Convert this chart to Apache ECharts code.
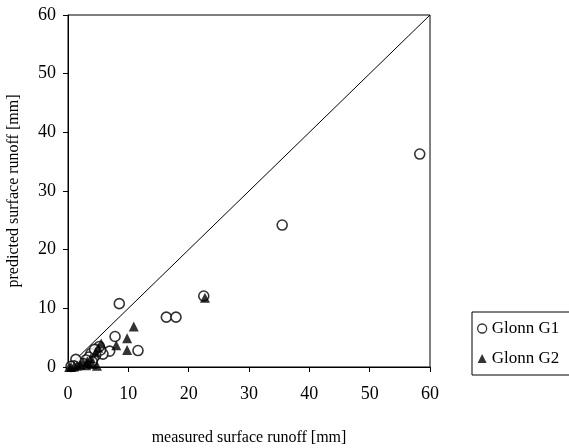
<!DOCTYPE html>
<html>
<head>
<meta charset="utf-8">
<script src="https://cdn.jsdelivr.net/npm/echarts@6/dist/echarts.min.js"></script>
<style>
  html, body { margin: 0; padding: 0; background: #fff; }
  #chart { width: 569px; height: 448px; }
</style>
</head>
<body>
<div id="chart"></div>
<script>
// measured vs predicted surface runoff [mm]
var glonnG1 = [
    [58.3, 36.3], [35.5, 24.2], [22.5, 12.1], [8.5, 10.8], [16.3, 8.5], [17.9, 8.5],
    [7.8, 5.2], [11.6, 2.8], [6.9, 2.7], [5.8, 2.2], [5.4, 2.9], [4.6, 2.0],
    [4.2, 1.5], [3.8, 2.3], [3.5, 1.7], [4.0, 0.9], [3.0, 1.2], [2.5, 0.6],
    [1.3, 1.3], [1.0, 0.2], [0.5, 0.1], [5.2, 3.5], [4.4, 3.0]
];
var glonnG2 = [
    [22.7, 11.8], [10.9, 6.9], [9.8, 4.9], [9.8, 2.9], [8.0, 3.7], [5.5, 4.0],
    [5.0, 3.3], [4.6, 2.5], [3.8, 1.5], [3.2, 1.0], [2.5, 0.8], [2.0, 0.4],
    [1.5, 0.2], [1.0, 0.1], [0.5, 0.0], [0.2, 0.0], [4.8, 0.2], [4.0, 0.5], [3.0, 0.3]
];
var oneToOne = [[0, 0], [60, 60]];
var seriesNames = ["Glonn G1", "Glonn G2"];

var font = "Liberation Serif";
var chart = echarts.init(document.getElementById("chart"));

var option = {
    animation: false,
    backgroundColor: "#fff",
    textStyle: { fontFamily: font, color: "#000" },
    grid: {
        left: 68, top: 15, right: 139, bottom: 81,
        outerBoundsMode: "none",
        containLabel: false,
        show: true, borderColor: "#000", borderWidth: 1, backgroundColor: "transparent"
    },
    legend: {
        orient: "vertical",
        left: 472, top: 312,
        data: [
            {
                name: seriesNames[0], icon: "circle",
                itemStyle: { color: "#fff", borderColor: "#000", borderWidth: 1.3 }
            },
            { name: seriesNames[1], icon: "triangle", itemStyle: { color: "#000" } }
        ],
        itemWidth: 9, itemHeight: 9, itemGap: 13,
        padding: [8, 40, 8, 5],
        borderColor: "#000", borderWidth: 1,
        textStyle: { fontFamily: font, fontSize: 17, color: "#000" }
    },
    xAxis: {
        type: "value", min: 0, max: 60, interval: 10,
        name: "measured surface runoff [mm]",
        nameLocation: "middle", nameGap: 63,
        nameTextStyle: { fontFamily: font, fontSize: 16, color: "#000" },
        axisLine: { lineStyle: { color: "#000", width: 1 } },
        axisTick: { show: true, length: 5, lineStyle: { color: "#000" } },
        axisLabel: { fontFamily: font, fontSize: 18, color: "#000", margin: 18 },
        splitLine: { show: false }
    },
    yAxis: {
        type: "value", min: 0, max: 60, interval: 10,
        name: "predicted surface runoff [mm]",
        nameLocation: "middle", nameGap: 46,
        nameTextStyle: { fontFamily: font, fontSize: 16, color: "#000" },
        axisLine: { lineStyle: { color: "#000", width: 1 } },
        axisTick: { show: true, length: 5, lineStyle: { color: "#000" } },
        axisLabel: { fontFamily: font, fontSize: 18, color: "#000", margin: 12 },
        splitLine: { show: false }
    },
    series: [
        {
            type: "line",
            data: oneToOne,
            symbol: "none",
            silent: true,
            lineStyle: { color: "#000", width: 1 },
            z: 1
        },
        {
            name: seriesNames[0],
            type: "scatter",
            data: glonnG1,
            symbol: "circle",
            symbolSize: 10,
            itemStyle: { color: "#fff", borderColor: "#000", borderWidth: 1.6 },
            z: 3
        },
        {
            name: seriesNames[1],
            type: "scatter",
            data: glonnG2,
            symbol: "triangle",
            symbolSize: 10,
            itemStyle: { color: "#000" },
            z: 4
        }
    ]
};

chart.setOption(option);
window.addEventListener("resize", chart.resize);
</script>
</body>
</html>
